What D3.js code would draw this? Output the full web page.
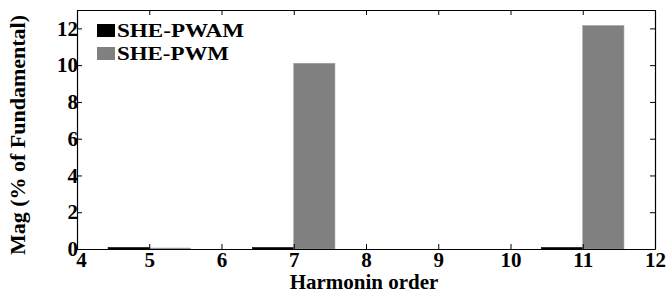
<!DOCTYPE html>
<html>
<head>
<meta charset="utf-8">
<script src="https://cdn.jsdelivr.net/npm/d3@7"></script>
<style>
  body { margin: 0; background: #fff; }
</style>
</head>
<body>
<script>
// harmonic orders and magnitudes (% of fundamental)
const harmonics = [5, 7, 11]
const shePwam = [0.08, 0.08, 0.08]
const shePwm = [0.05, 10.1, 12.15]
const seriesNames = ["SHE-PWAM", "SHE-PWM"]
const seriesColors = ["#000000", "#808080"]
const xTicks = [4, 5, 6, 7, 8, 9, 10, 11, 12]
const yTicks = [0, 2, 4, 6, 8, 10, 12]

const width = 667, height = 293
const m = { left: 77, right: 12, top: 10, bottom: 44 }
const barW = 0.57
const serif = "'Liberation Serif', 'Times New Roman', serif"

const svg = d3.select("body").append("svg")
    .attr("width", width)
    .attr("height", height)
    .attr("font-family", serif)
    .attr("font-weight", "bold")

const x = d3.scaleLinear().domain([4, 12]).range([m.left, width - m.right])
const y = d3.scaleLinear().domain([0, 13]).range([height - m.bottom, m.top])

// bars
const series = [shePwam, shePwm]
series.forEach((vals, s) => {
  svg.append("g").selectAll("rect")
    .data(harmonics)
    .join("rect")
      .attr("x", (d) => x(s === 0 ? d - barW : d))
      .attr("y", (d, i) => y(vals[i]))
      .attr("width", x(4 + barW) - x(4))
      .attr("height", (d, i) => y(0) - y(vals[i]))
      .attr("fill", seriesColors[s])
      .attr("stroke", s === 0 ? "#000" : "#9a9a9a")
      .attr("stroke-width", 0.6)
})

// axes, ticks pointing inward
const tickLen = 5
svg.append("g")
    .attr("transform", `translate(0,${y(0)})`)
    .call(d3.axisBottom(x).tickValues(xTicks).tickSizeInner(-tickLen).tickSizeOuter(0).tickPadding(3))
  .selectAll(".tick text")
    .attr("dx", (d) => d === 4 ? 4 : 0)
svg.append("g")
    .attr("transform", `translate(0,${y(13)})`)
    .call(d3.axisTop(x).tickValues(xTicks).tickSizeInner(-tickLen).tickSizeOuter(0).tickFormat(""))
svg.append("g")
    .attr("transform", `translate(${x(4)},0)`)
    .call(d3.axisLeft(y).tickValues(yTicks).tickSizeInner(-tickLen).tickSizeOuter(0).tickPadding(-1))
svg.append("g")
    .attr("transform", `translate(${x(12)},0)`)
    .call(d3.axisRight(y).tickValues(yTicks).tickSizeInner(-tickLen).tickSizeOuter(0).tickFormat(""))

svg.selectAll("g")
    .attr("font-family", serif)
    .attr("font-size", 21)
svg.selectAll(".domain").attr("stroke", "#000").attr("stroke-width", 1.2)
svg.selectAll(".tick line").attr("stroke", "#000")
svg.selectAll(".tick text")
    .attr("font-family", serif)
    .attr("font-weight", "bold")
    .attr("font-size", 21)
    .attr("fill", "#000")

// axis titles
svg.append("text")
    .attr("x", 364)
    .attr("y", 289)
    .attr("text-anchor", "middle")
    .attr("font-family", serif)
    .attr("font-weight", "bold")
    .attr("font-size", 21)
    .text("Harmonin order")

svg.append("text")
    .attr("transform", `translate(25,${135}) rotate(-90)`)
    .attr("text-anchor", "middle")
    .attr("font-family", serif)
    .attr("font-weight", "bold")
    .attr("font-size", 21)
    .attr("textLength", 240)
    .attr("lengthAdjust", "spacingAndGlyphs")
    .text("Mag (% of Fundamental)")

// legend
seriesNames.forEach((name, i) => {
  const ly = 24 + i * 23
  svg.append("rect")
      .attr("x", 97)
      .attr("y", ly)
      .attr("width", 18)
      .attr("height", 13)
      .attr("fill", seriesColors[i])
  svg.append("text")
      .attr("x", 117)
      .attr("y", ly + 13)
      .attr("font-family", serif)
      .attr("font-weight", "bold")
      .attr("font-size", 19)
      .attr("textLength", i === 0 ? 127 : 112)
      .attr("lengthAdjust", "spacingAndGlyphs")
      .text(name)
})
</script>
</body>
</html>
